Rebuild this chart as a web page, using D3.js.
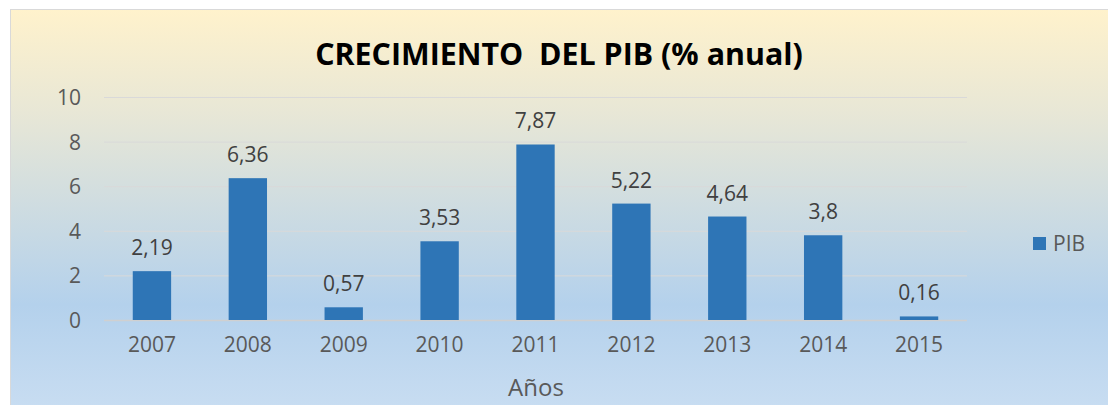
<!DOCTYPE html>
<html><head><meta charset="utf-8">
<script src="https://cdn.jsdelivr.net/npm/d3@7/dist/d3.min.js"></script>
<style>body{margin:0;background:#fff;} svg{display:block;font-family:"Open Sans",sans-serif;}</style>
</head><body>
<svg id="chart" width="1108" height="405"></svg>
<script>
const categories = ["2007","2008","2009","2010","2011","2012","2013","2014","2015"];
const pibValues = [2.19, 6.36, 0.57, 3.53, 7.87, 5.22, 4.64, 3.8, 0.16];
const yTicks = [0, 2, 4, 6, 8, 10];
const seriesName = "PIB";
const titleText = "CRECIMIENTO  DEL PIB (% anual)";
const xAxisTitle = "Años";

const svg = d3.select("#chart");
const defs = svg.append("defs");
const grad = defs.append("linearGradient").attr("id","bg").attr("x1",0).attr("y1",0).attr("x2",0).attr("y2",1);
[["0%","#fff2cc"],["25%","#e8e7d6"],["72%","#b4d1ec"],["100%","#cadef2"]].forEach(([o,c])=>grad.append("stop").attr("offset",o).attr("stop-color",c));

svg.append("rect").attr("x",10.5).attr("y",9.5).attr("width",1110).attr("height",410)
  .attr("fill","url(#bg)").attr("stroke","#d9d9d9").attr("stroke-width",1);

const x = d3.scaleBand().domain(categories).range([104,967]).paddingInner(0.6).paddingOuter(0.3);
const y = d3.scaleLinear().domain([0,10]).range([320,97]);

// gridlines
svg.append("g").selectAll("line").data(yTicks).join("line")
  .attr("x1",104).attr("x2",967).attr("y1",d=>y(d)+0.5).attr("y2",d=>y(d)+0.5)
  .attr("stroke",d=>d===0?"#d0d0d0":"#d9d9d9").attr("stroke-width",d=>d===0?1.5:1);

// y axis labels
const yAxis = d3.axisLeft(y).tickValues(yTicks).tickSize(0).tickPadding(0).tickFormat(d3.format("d"));
const yg = svg.append("g").attr("transform","translate(81,0)").call(yAxis);
yg.select(".domain").remove();
yg.selectAll("text").attr("font-size",21).attr("fill","#595959").attr("font-family","Open Sans").attr("dy","0.36em");

// x axis labels
const xAxis = d3.axisBottom(x).tickSize(0).tickPadding(0);
const xg = svg.append("g").attr("transform","translate(0,337)").call(xAxis);
xg.select(".domain").remove();
xg.selectAll("text").attr("font-size",21).attr("fill","#595959").attr("font-family","Open Sans").attr("dy","0.71em");

// bars
svg.append("g").selectAll("rect").data(pibValues).join("rect")
  .attr("x",(d,i)=>x(categories[i])).attr("width",x.bandwidth())
  .attr("y",d=>y(d)).attr("height",d=>y(0)-y(d)).attr("fill","#2e75b6");

// data labels
const fmt = v => String(v).replace(".",",");
svg.append("g").selectAll("text").data(pibValues).join("text")
  .attr("x",(d,i)=>x(categories[i])+x.bandwidth()/2).attr("y",d=>y(d)-16)
  .attr("text-anchor","middle").attr("font-size",21).attr("fill","#404040")
  .text(d=>fmt(d));

// title
const t = svg.append("text").attr("x",0).attr("y",0).attr("text-anchor","middle")
  .attr("font-weight","bold").attr("font-size",31).attr("fill","#000")
  .style("white-space","pre").text(titleText);
const tw = t.node().getComputedTextLength();
t.attr("transform", `translate(559,65) scale(${488/tw},1)`);

// x axis title
svg.append("text").attr("x",536).attr("y",396).attr("text-anchor","middle")
  .attr("font-size",24).attr("fill","#595959").text(xAxisTitle);

// legend
const lg = svg.append("g");
lg.append("rect").attr("x",1033).attr("y",237).attr("width",13).attr("height",13).attr("fill","#2e75b6");
lg.append("text").attr("x",1053).attr("y",251).attr("font-size",21).attr("fill","#595959").text(seriesName);
</script>
</body></html>
